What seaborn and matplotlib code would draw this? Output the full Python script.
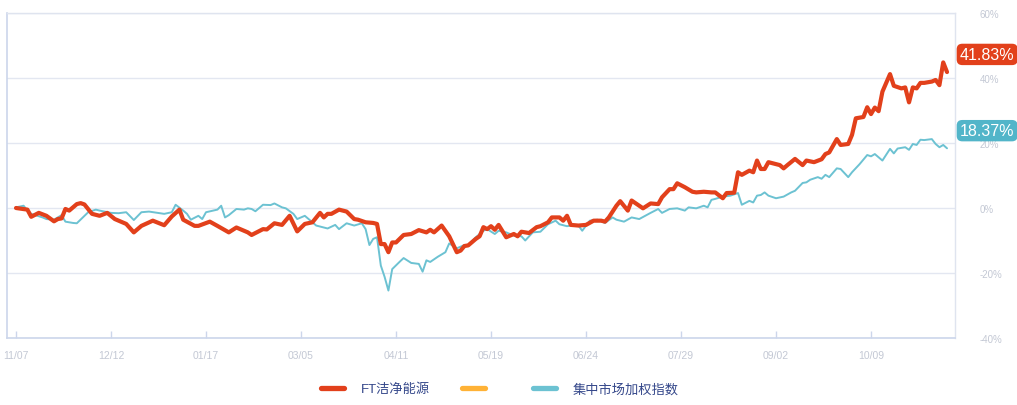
import matplotlib
matplotlib.use("Agg")
import matplotlib.pyplot as plt
from matplotlib.lines import Line2D
import seaborn as sns
import pandas as pd

# ---------------- data ----------------
series_names = ["FT洁净能源", "", "集中市场加权指数"]
series_colors = ["#e2401b", "#ffb236", "#6cc2d2"]
label_bg_colors = ["#e2401b", "#ffb236", "#52b5c9"]

tick_days = [0, 25, 50, 75, 100, 125, 150, 175, 200, 225]
tick_labels = ["11/07", "12/12", "01/17", "03/05", "04/11",
               "05/19", "06/24", "07/29", "09/02", "10/09"]
y_ticks = [-40, -20, 0, 20, 40, 60]

ft_day = [0, 3, 4, 6, 8, 10, 11, 12, 13, 14,
          16, 17, 18, 20, 22, 24, 26, 29, 31, 33,
          36, 39, 41, 43, 44, 47, 48, 51, 53, 56,
          58, 61, 62, 65, 66, 68, 70, 72, 74, 76,
          78, 80, 81, 82, 83, 85, 87, 89, 90, 92,
          94, 95, 96, 97, 98, 99, 100, 102, 104, 106,
          108, 109, 110, 112, 114, 116, 117, 118, 119, 121,
          122, 123, 124, 125, 126, 127, 129, 131, 132, 133,
          135, 137, 138, 140, 141, 143, 144, 145, 146, 148,
          150, 152, 154, 155, 156, 158, 159, 161, 162, 165,
          167, 169, 170, 172, 173, 174, 176, 178, 179, 181,
          183, 184, 186, 187, 189, 190, 191, 193, 194, 195,
          196, 197, 198, 201, 202, 203, 205, 207, 208, 210,
          212, 213, 214, 216, 217, 219, 220, 221, 223, 224,
          225, 226, 227, 228, 230, 231, 233, 234, 235, 236,
          237, 238, 239, 241, 242, 243, 244, 245]
ft_pct = [0, -0.5, -2.7, -1.5, -2.4, -4.1, -3.4, -3.2, -0.3, -0.8,
          1.2, 1.5, 1.1, -1.8, -2.4, -1.5, -3.4, -4.9, -7.5, -5.5,
          -3.9, -5.3, -2.6, -0.5, -3.6, -5.5, -5.5, -4.2, -5.5, -7.5,
          -6.0, -7.5, -8.3, -6.5, -6.6, -4.7, -5.2, -2.4, -7.2, -4.9,
          -4.4, -1.5, -2.9, -1.8, -1.8, -0.5, -1.1, -3.4, -3.6, -4.4,
          -4.6, -4.9, -11.1, -11.1, -13.6, -10.6, -10.6, -8.3, -8.0, -6.8,
          -7.5, -6.7, -7.5, -5.4, -8.7, -13.6, -13.1, -11.7, -11.5, -9.5,
          -8.7, -5.9, -6.5, -5.6, -6.7, -5.2, -9.0, -8.0, -8.7, -7.3,
          -7.7, -5.9, -5.6, -4.4, -2.9, -2.9, -3.9, -2.4, -5.2, -5.4,
          -5.2, -3.9, -3.9, -4.2, -2.9, 0.7, 2.1, -0.8, 2.3, -0.1,
          1.4, 1.2, 3.3, 5.8, 5.8, 7.6, 6.4, 5.0, 4.8, 5.0,
          4.8, 4.8, 3.0, 4.6, 4.7, 11.0, 10.2, 11.5, 11.0, 14.6,
          12.0, 12.0, 14.1, 13.2, 12.2, 13.2, 15.1, 13.2, 14.6, 14.1,
          15.0, 16.6, 17.1, 21.2, 19.4, 19.7, 22.5, 27.6, 28.0, 31.0,
          28.9, 30.9, 29.8, 35.8, 41.2, 37.6, 36.8, 37.1, 32.5, 37.1,
          36.8, 38.5, 38.5, 38.9, 39.4, 37.8, 44.8, 41.83]

idx_day = [0, 2, 3, 4, 7, 8, 10, 12, 13, 15,
           16, 19, 21, 22, 25, 27, 29, 31, 33, 35,
           39, 41, 42, 44, 45, 46, 48, 49, 50, 53,
           54, 55, 56, 58, 60, 61, 62, 63, 65, 67,
           68, 70, 71, 73, 74, 76, 77, 79, 82, 84,
           85, 87, 89, 91, 92, 93, 94, 95, 96, 97,
           98, 99, 101, 102, 104, 106, 107, 108, 109, 111,
           113, 114, 116, 118, 119, 121, 123, 124, 126, 127,
           129, 131, 133, 134, 136, 138, 140, 142, 143, 145,
           147, 148, 149, 151, 153, 155, 157, 158, 160, 162,
           164, 167, 169, 170, 172, 174, 176, 177, 179, 181,
           182, 183, 184, 186, 188, 190, 191, 193, 194, 195,
           196, 197, 198, 200, 202, 204, 205, 207, 208, 209,
           211, 212, 213, 214, 216, 217, 219, 220, 222, 224,
           225, 226, 228, 230, 231, 232, 234, 235, 236, 237,
           238, 239, 241, 242, 243, 244, 245]
idx_pct = [0.2, 0.7, -0.8, -1.8, -2.9, -3.4, -3.6, -2.2, -4.2, -4.6,
           -4.7, -1.3, -0.5, -0.8, -1.5, -1.6, -1.3, -3.7, -1.3, -1.1,
           -1.8, -1.3, 1.0, -0.8, -1.8, -3.6, -2.4, -3.4, -1.3, -0.5,
           0.7, -2.9, -2.2, -0.3, -0.5, -0.1, -0.3, -1.0, 1.0, 0.9,
           1.4, 0.2, -0.1, -1.8, -3.4, -2.4, -3.4, -5.4, -6.3, -5.2,
           -6.5, -4.7, -5.4, -4.7, -6.5, -11.4, -9.5, -9.0, -17.7, -21.2,
           -25.4, -18.8, -16.5, -15.4, -16.9, -17.2, -19.6, -16.1, -16.6, -15.0,
           -13.6, -10.9, -12.4, -11.4, -11.4, -9.0, -7.0, -6.5, -8.0, -7.0,
           -7.5, -8.5, -8.7, -10.0, -7.5, -7.3, -5.0, -3.9, -5.0, -5.6,
           -5.2, -5.4, -7.0, -3.9, -3.6, -4.6, -2.9, -3.6, -4.2, -2.9,
           -3.4, -1.5, -0.3, -1.5, -0.3, -0.1, -0.8, 0.2, -0.1, 0.7,
           0.2, 2.5, 2.8, 3.5, 3.8, 4.6, 1.0, 2.2, 1.7, 3.8,
           4.0, 4.8, 3.8, 3.0, 3.5, 4.8, 5.3, 7.7, 7.9, 8.7,
           9.5, 9.0, 10.2, 9.5, 12.2, 12.0, 9.5, 11.0, 13.5, 16.3,
           15.9, 16.6, 14.6, 18.2, 16.8, 18.3, 18.7, 17.9, 19.7, 19.4,
           21.0, 20.9, 21.2, 19.7, 18.7, 19.4, 18.37]

# ---------------- style ----------------
sns.set_theme(style="white")
plt.rcParams["font.family"] = ["Liberation Sans", "Noto Sans CJK SC", "DejaVu Sans"]

fig = plt.figure(figsize=(10.17, 4.06), dpi=100)
ax = fig.add_axes([7 / 1017, 67 / 406, 948 / 1017, 325 / 406])

ft_df = pd.DataFrame({"day": ft_day, "pct": ft_pct})
idx_df = pd.DataFrame({"day": idx_day, "pct": idx_pct})

sns.lineplot(data=idx_df, x="day", y="pct", ax=ax, color=series_colors[2],
             linewidth=1.4, legend=False, zorder=3)
sns.lineplot(data=ft_df, x="day", y="pct", ax=ax, color=series_colors[0],
             linewidth=3.0, legend=False, zorder=4,
             solid_joinstyle="round", solid_capstyle="round")

ax.set_xlim(-2.37, 247.1)
ax.set_ylim(-40, 60)
ax.set_xlabel("")
ax.set_ylabel("")

ax.set_xticks(tick_days)
ax.set_xticklabels(tick_labels)
ax.set_yticks(y_ticks)
ax.set_yticklabels([f"{v}%" for v in y_ticks])
ax.yaxis.tick_right()

ax.yaxis.grid(True, color="#e3e7f1", linewidth=1)
ax.xaxis.grid(False)

ax.tick_params(axis="x", direction="in", length=5, width=1, color="#ccd6eb",
               labelsize=7.5, labelcolor="#c3c8d4", pad=9, bottom=True)
ax.tick_params(axis="y", length=0, labelsize=7, labelcolor="#c3c8d4", pad=18)

for side in ["left", "bottom"]:
    ax.spines[side].set_color("#ccd6eb")
    ax.spines[side].set_linewidth(1.2)
for side in ["top", "right"]:
    ax.spines[side].set_color("#dfe4ef")
    ax.spines[side].set_linewidth(1.0)

# end-value labels
for last, bg in [(ft_pct[-1], label_bg_colors[0]), (idx_pct[-1], label_bg_colors[2])]:
    ax.annotate(f"{last:.2f}%", xy=(1.0, last), xycoords=("axes fraction", "data"),
                xytext=(3.5, 12.7), textcoords="offset points",
                ha="left", va="center", color="white", fontsize=11.5,
                family=["Liberation Sans", "DejaVu Sans"],
                bbox=dict(boxstyle="round,pad=0.2,rounding_size=0.35",
                          fc=bg, ec="none"),
                zorder=10, annotation_clip=False)

# legend
handles = [Line2D([0], [0], color=c, lw=3.8, solid_capstyle="round")
           for c in series_colors]
leg = fig.legend(handles, series_names, loc="center", ncol=3,
                 bbox_to_anchor=(500 / 1017, 16 / 406), frameon=False,
                 fontsize=9.5, handlelength=1.75, handletextpad=1.25,
                 columnspacing=2.4)
for t in leg.get_texts():
    t.set_color("#34478a")

fig.savefig("out.png", dpi=100)
